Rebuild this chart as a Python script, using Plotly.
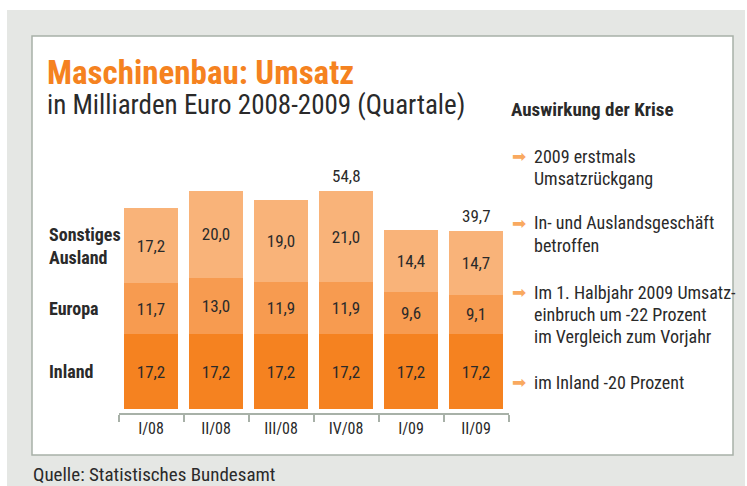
import plotly.graph_objects as go

# ---- data ----
quarters = ["I/08", "II/08", "III/08", "IV/08", "I/09", "II/09"]
inland = [17.2, 17.2, 17.2, 17.2, 17.2, 17.2]
europa = [11.7, 13.0, 11.9, 11.9, 9.6, 9.1]
sonstiges = [17.2, 20.0, 19.0, 21.0, 14.4, 14.7]
total_labels = [None, None, None, "54,8", None, "39,7"]
series_names = ["Inland", "Europa", "Sonstiges<br>Ausland"]
notes_title = "Auswirkung der Krise"
notes = [
    ["2009 erstmals", "Umsatzrückgang"],
    ["In- und Auslandsgeschäft", "betroffen"],
    ["Im 1. Halbjahr 2009 Umsatz-", "einbruch um -22 Prozent", "im Vergleich zum Vorjahr"],
    ["im Inland -20 Prozent"],
]
title = "Maschinenbau: Umsatz"
subtitle = "in Milliarden Euro 2008-2009 (Quartale)"
source = "Quelle: Statistisches Bundesamt"

# ---- style ----
W, H = 747, 486
FONT = "Liberation Sans Narrow, Roboto Condensed, DejaVu Sans Condensed, Arial Narrow, sans-serif"
C_IN, C_EU, C_SO = "#f58220", "#f79b50", "#f9b379"
ORANGE = "#f58220"
TXT = "#2a2a2a"


def px(x):
    return x / W


def py(y):
    return 1 - y / H


fig = go.Figure()
for vals, col, name in [(inland, C_IN, series_names[0]), (europa, C_EU, series_names[1]),
                        (sonstiges, C_SO, series_names[2])]:
    fig.add_trace(go.Bar(
        x=quarters, y=vals, name=name, marker=dict(color=col, line=dict(width=0)),
        texttemplate="%{y:.1f}", textposition="inside", insidetextanchor="middle",
        textfont=dict(family=FONT, size=17, color=TXT), hoverinfo="skip",
        constraintext="none",
    ))

shapes = [
    dict(type="rect", xref="paper", yref="paper", x0=px(7), x1=px(745), y0=py(486), y1=py(10),
         fillcolor="#e5e7e4", line=dict(width=0), layer="below"),
    dict(type="rect", xref="paper", yref="paper", x0=px(32), x1=px(733), y0=py(455), y1=py(36),
         fillcolor="white", line=dict(color="#a8b1a8", width=1.5), layer="below"),
]

annotations = []
for i, (q, lab) in enumerate(zip(quarters, total_labels)):
    if lab:
        annotations.append(dict(x=q, y=inland[i] + europa[i] + sonstiges[i], xref="x", yref="y",
                                text=lab, showarrow=False, yanchor="bottom", yshift=3,
                                font=dict(family=FONT, size=17, color=TXT)))
mids = [inland[0] / 2, inland[0] + europa[0] / 2, inland[0] + europa[0] + sonstiges[0] / 2]
for name, m in zip(series_names, mids):
    annotations.append(dict(x=px(47), y=m, xref="paper", yref="y", text="<b>" + name + "</b>",
                            showarrow=False, xanchor="left", yanchor="middle", align="left",
                            font=dict(family=FONT, size=18, color=TXT)))
annotations.append(dict(x=px(45), y=py(72), xref="paper", yref="paper", text="<b>" + title + "</b>",
                        showarrow=False, xanchor="left", yanchor="middle",
                        font=dict(family=FONT, size=33, color=ORANGE)))
annotations.append(dict(x=px(45), y=py(105), xref="paper", yref="paper", text=subtitle,
                        showarrow=False, xanchor="left", yanchor="middle",
                        font=dict(family=FONT, size=27, color=TXT)))
annotations.append(dict(x=px(31), y=py(474), xref="paper", yref="paper", text=source,
                        showarrow=False, xanchor="left", yanchor="middle",
                        font=dict(family=FONT, size=19, color=TXT)))
annotations.append(dict(x=px(509), y=py(110), xref="paper", yref="paper", text="<b>" + notes_title + "</b>",
                        showarrow=False, xanchor="left", yanchor="middle",
                        font=dict(family=FONT, size=19, color=TXT)))
line_ys = [[156, 179], [223, 245], [292, 314, 336], [382]]
for lines, ys in zip(notes, line_ys):
    annotations.append(dict(x=px(510), y=py(ys[0]), xref="paper", yref="paper", text="➡",
                            showarrow=False, xanchor="left", yanchor="middle",
                            font=dict(family="DejaVu Sans", size=17, color="#f9a95f")))
    for t, yy in zip(lines, ys):
        annotations.append(dict(x=px(532), y=py(yy), xref="paper", yref="paper", text=t,
                                showarrow=False, xanchor="left", yanchor="middle",
                                font=dict(family=FONT, size=18, color=TXT)))

y_top_px, y_bot_px = 140, 413
scale = 4.35
y0 = -4 / scale
y1 = y0 + (y_bot_px - y_top_px) / scale

fig.update_layout(
    width=W, height=H, margin=dict(l=0, r=0, t=0, b=0),
    paper_bgcolor="white", plot_bgcolor="rgba(0,0,0,0)",
    barmode="stack", bargap=11 / 65, showlegend=False, separators=",.",
    font=dict(family=FONT, color=TXT),
    xaxis=dict(domain=[px(118.5), px(508.5)], range=[-0.5, 5.5], showline=True, linecolor="#a8b1a8",
               linewidth=1.5, ticks="outside", tickson="boundaries", ticklen=7, tickcolor="#a8b1a8",
               tickwidth=1.5, tickfont=dict(family=FONT, size=16, color=TXT), showgrid=False,
               zeroline=False, fixedrange=True),
    yaxis=dict(domain=[py(y_bot_px), py(y_top_px)], range=[y0, y1], visible=False, fixedrange=True),
    shapes=shapes, annotations=annotations,
)
fig.write_html("out.html", post_script="document.body.style.margin='0px';",
               config={"displayModeBar": False})
